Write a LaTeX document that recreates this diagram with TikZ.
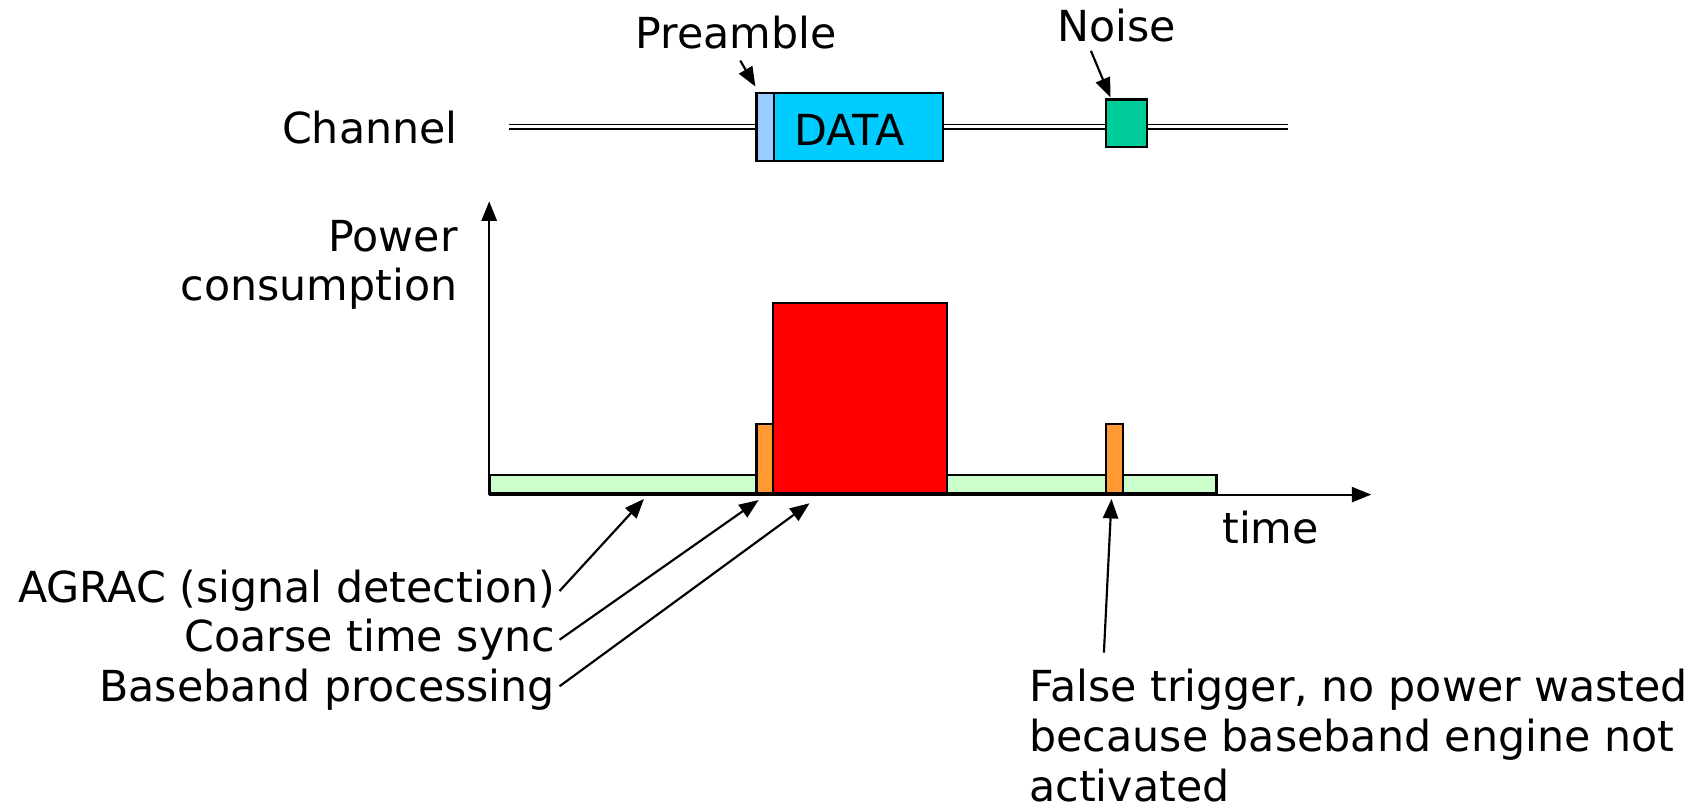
\documentclass[tikz,border=0pt]{standalone}
\usepackage{fontspec}
\setmainfont{DejaVu Sans}
\usetikzlibrary{arrows.meta}
\definecolor{preblue}{HTML}{99CCFF}
\definecolor{datablue}{HTML}{00CCFF}
\definecolor{noisegreen}{HTML}{00CC99}
\definecolor{lightgreen}{HTML}{CCFFCC}
\definecolor{barorange}{HTML}{FF9933}
\definecolor{barred}{HTML}{FF0000}
\begin{document}
\begin{tikzpicture}[x=1pt,y=-1pt,
  lbl/.style={font=\fontsize{39.5}{46}\selectfont, inner sep=0pt},
  bar/.style={draw=black, line width=2pt, inner sep=0pt, anchor=south west},
  arr/.style={-{Triangle[length=18pt,width=14pt]}, line width=2pt},
  chanline/.style={double, double distance=3pt, line width=1.3pt},
  ]
\useasboundingbox (0,0) rectangle (1568,748);

% channel
\node[lbl, anchor=east] (chan) at (423,118) {Channel};
\coordinate (chL) at (470,117);
\coordinate (chR) at (1190,117);
\draw[chanline] (chL) -- (chR);
\node[bar, fill=preblue, minimum width=16pt, minimum height=63pt] (pre) at (698,150) {};
\node[bar, fill=datablue, minimum width=156pt, minimum height=63pt] (data) at (714,150) {};
\node[lbl, anchor=center] (datalbl) at (785,120) {DATA};
\node[bar, fill=noisegreen, minimum width=38pt, minimum height=44pt] (noise) at (1021,137) {};

\node[lbl, anchor=base] (pream) at (680,45) {Preamble};
\node[lbl, anchor=base] (noiselbl) at (1032,38) {Noise};
\coordinate (preA) at (684,56);
\coordinate (preB) at (698,80);
\draw[arr] (preA) -- (preB);
\coordinate (noiA) at (1008,47);
\coordinate (noiB) at (1026,90);
\draw[arr] (noiA) -- (noiB);

% power plot
\node[lbl, anchor=north east, align=right] (power) at (423,203) {Power\\consumption};
\node[bar, fill=lightgreen, minimum width=246pt, minimum height=17pt] (g1) at (452,457) {};
\node[bar, fill=barorange, minimum width=15pt, minimum height=64pt] (o1) at (698,457) {};
\node[bar, fill=barred, minimum width=161pt, minimum height=176pt] (red) at (713,457) {};
\node[bar, fill=lightgreen, minimum width=249pt, minimum height=17pt] (g2) at (874,457) {};
\node[bar, fill=barorange, minimum width=16pt, minimum height=64pt] (o2) at (1021,457) {};

\coordinate (orig) at (452,457);
\coordinate (ytop) at (452,186);
\coordinate (xend) at (1267,457);
\draw[arr] (orig) -- (ytop);
\draw[arr] (orig) -- (xend);
\node[lbl, anchor=base] (time) at (1174,502) {time};

% labels
\node[lbl, anchor=base east] (agrac) at (513,557) {AGRAC (signal detection)};
\node[lbl, anchor=base east] (coarse) at (513,602) {Coarse time sync};
\node[lbl, anchor=base east] (bb) at (513,648) {Baseband processing};
\coordinate (agT) at (595,461);
\coordinate (coT) at (701,462);
\coordinate (bbT) at (748,465);
\draw[arr] ([xshift=4pt]agrac.east) -- (agT);
\draw[arr] ([xshift=4pt]coarse.east) -- (coT);
\draw[arr] ([xshift=4pt,yshift=3pt]bb.east) -- (bbT);

\node[lbl, anchor=north west, align=left] (ft) at (951,618) {False trigger, no power wasted\\because baseband engine not\\activated};
\coordinate (ftA) at (1020,603);
\coordinate (ftB) at (1027,461);
\draw[arr] (ftA) -- (ftB);
\end{tikzpicture}
\end{document}
